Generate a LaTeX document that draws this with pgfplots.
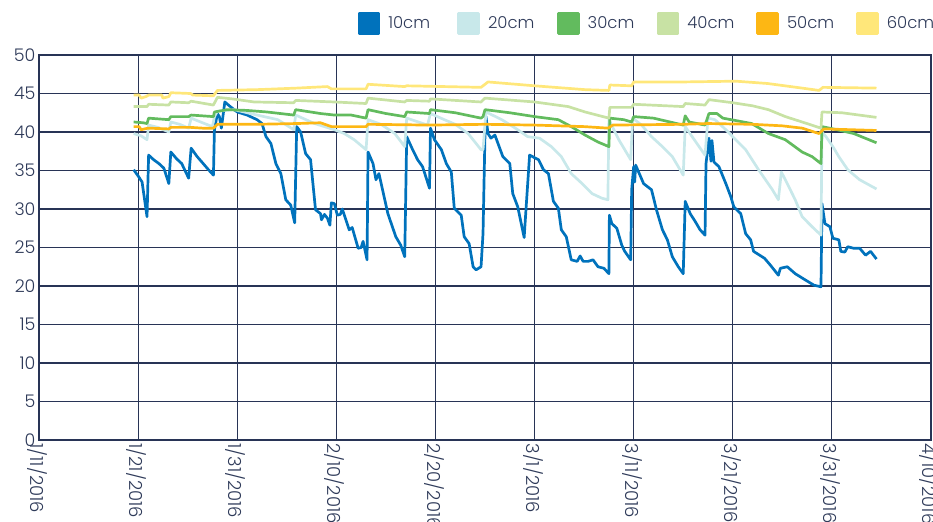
\documentclass[border=0pt]{standalone}
\usepackage{fontspec}
\IfFontExistsTF{Poppins Light}{\setmainfont{Poppins Light}}{\setmainfont{Poppins}}
\usepackage{pgfplots}
\pgfplotsset{compat=1.18}
\definecolor{cA}{RGB}{0,114,188}
\definecolor{cB}{RGB}{200,232,234}
\definecolor{cC}{RGB}{98,187,94}
\definecolor{cD}{RGB}{200,226,164}
\definecolor{cE}{RGB}{253,183,20}
\definecolor{cF}{RGB}{255,231,122}
\definecolor{gridc}{RGB}{40,52,86}
\definecolor{textc}{RGB}{46,58,89}
\newcommand{\legbox}[1]{\makebox[45bp][l]{#1}}
\begin{document}
\begin{tikzpicture}
\begin{axis}[
  at={(0,0)}, anchor=south west,
  scale only axis, width=892bp, height=385bp,
  xmin=0, xmax=90, ymin=0, ymax=50,
  xtick={0,10,...,90},
  xticklabels={1/11/2016,1/21/2016,1/31/2016,2/10/2016,2/20/2016,3/1/2016,3/11/2016,3/21/2016,3/31/2016,4/10/2016},
  ytick={0,5,...,50},
  grid=major,
  major grid style={line width=1.1bp, color=gridc},
  axis line style={line width=1.1bp, color=gridc},
  tick style={draw=none},
  /pgf/number format/assume math mode=true,
  x tick label style={rotate=-90, anchor=west, yshift=-1.5bp, font=\fontsize{18}{20}\selectfont, text=textc},
  y tick label style={font=\fontsize{17.5}{20}\selectfont, text=textc},
  legend columns=6,
  legend style={at={(1,1)}, anchor=south east, xshift=1bp, yshift=20bp, draw=none, fill=none,
    inner sep=0pt, nodes={inner sep=0pt},
    font=\fontsize{16.5}{18}\selectfont, text=textc,
    /tikz/every odd column/.append style={column sep=8bp},
    /tikz/every even column/.append style={column sep=24bp}},
  legend image code/.code={\fill[#1] (0bp,-10bp) rectangle (20bp,10bp);},
  every axis plot/.append style={line width=2.7bp, line join=round},
]
\addplot[color=cA] coordinates {
(9.55,35.1)(10.05,34.2)(10.4,33.5)(10.9,29.0)(11.06,37.0)(11.57,36.4)(12.1,35.9)(12.6,35.3)(13.1,33.3)(13.3,37.4)(13.9,36.5)(14.4,35.9)(15.1,34.0)(15.35,37.9)(15.96,36.8)(16.5,36.0)(17.1,35.1)(17.6,34.4)(17.7,40.3)(18.0,42.4)(18.2,42.0)(18.4,40.5)(18.75,43.9)(19.3,43.3)(19.6,43.0)(20.0,42.6)(21.0,42.2)(22.0,41.6)(22.5,41.1)(22.9,39.4)(23.4,38.5)(23.9,35.9)(24.4,34.6)(24.9,31.2)(25.4,30.5)(25.8,28.2)(26.0,40.7)(26.4,40.0)(26.9,37.2)(27.4,36.4)(27.9,29.9)(28.4,29.4)(28.5,28.6)(28.8,29.3)(29.1,28.8)(29.35,27.9)(29.5,30.8)(29.8,30.7)(30.1,29.2)(30.4,29.3)(30.6,30.0)(31.3,27.3)(31.6,27.6)(32.2,24.9)(32.5,25.0)(32.7,25.8)(33.1,23.4)(33.2,37.4)(33.7,35.9)(34.0,33.8)(34.3,34.6)(35.2,29.4)(36.0,26.4)(36.5,25.3)(36.9,23.8)(37.1,39.4)(37.7,37.7)(38.2,36.4)(38.7,35.5)(39.4,32.7)(39.5,40.5)(39.9,39.0)(40.6,37.7)(41.1,35.9)(41.6,34.8)(41.9,30.1)(42.6,29.2)(42.9,26.4)(43.4,25.5)(43.8,22.5)(44.1,22.1)(44.6,22.5)(44.8,26.8)(45.0,39.8)(45.1,42.0)(45.3,39.8)(45.6,39.2)(46.0,39.6)(46.8,36.8)(47.5,35.9)(47.8,32.0)(48.3,30.3)(48.95,26.3)(49.2,31.2)(49.5,37.0)(50.4,36.4)(50.9,35.1)(51.4,34.6)(51.9,31.0)(52.4,30.1)(52.7,27.3)(53.2,26.4)(53.7,23.4)(54.3,23.2)(54.6,23.9)(54.9,23.2)(55.4,23.2)(55.9,23.4)(56.4,22.5)(57.0,22.3)(57.5,21.6)(57.55,29.2)(57.8,28.1)(58.3,27.5)(58.8,25.3)(59.1,24.5)(59.7,23.4)(59.8,32.5)(60.0,35.5)(60.1,33.5)(60.2,35.7)(61.0,33.3)(61.8,32.5)(62.3,29.9)(62.9,27.3)(63.4,26.0)(63.9,23.8)(64.5,22.5)(65.0,21.6)(65.2,31.0)(65.7,29.4)(66.2,28.4)(66.7,27.3)(67.2,26.6)(67.3,35.9)(67.6,39.2)(67.8,36.2)(67.9,38.9)(68.1,36.1)(68.6,35.5)(69.3,33.3)(69.8,31.6)(70.1,30.3)(70.8,29.4)(71.3,26.8)(71.8,26.0)(72.1,24.5)(73.2,23.6)(73.8,22.7)(74.6,21.4)(74.8,22.3)(75.5,22.5)(76.3,21.6)(77.3,20.8)(78.2,20.1)(78.9,19.9)(79.0,30.7)(79.3,28.1)(79.8,27.7)(80.1,26.2)(80.7,26.0)(80.9,24.5)(81.3,24.4)(81.6,25.1)(82.2,24.9)(82.8,24.9)(83.4,24.0)(83.9,24.5)(84.5,23.5)
};
\addlegendentry{\legbox{10cm}}
\addplot[color=cB] coordinates {
(9.55,39.8)(10.3,39.5)(10.9,39.0)(11.06,40.9)(12.0,40.6)(13.1,40.0)(13.3,41.3)(14.2,41.0)(15.1,40.5)(15.35,41.8)(16.5,41.2)(17.5,40.7)(17.7,42.0)(18.0,42.7)(19.7,42.9)(22.0,42.2)(24.1,41.6)(25.7,40.3)(25.9,42.2)(27.8,41.1)(29.8,40.3)(30.8,39.8)(31.8,39.0)(33.0,37.7)(33.2,41.6)(34.5,41.0)(35.9,39.8)(36.9,38.1)(37.1,41.8)(39.2,40.9)(39.5,42.4)(40.9,41.6)(42.0,41.0)(43.3,39.8)(44.6,37.7)(44.8,37.7)(45.1,42.6)(46.7,41.6)(48.3,40.3)(49.3,39.4)(50.5,39.2)(51.7,38.1)(52.7,36.8)(53.7,34.6)(54.8,33.3)(55.8,32.0)(56.8,31.4)(57.4,31.2)(57.5,41.6)(58.5,39.0)(59.1,37.7)(59.7,36.4)(59.9,41.8)(60.8,40.9)(61.8,39.4)(62.9,38.1)(63.9,36.8)(64.5,35.5)(65.0,34.4)(65.2,40.7)(65.9,39.4)(66.6,38.1)(67.2,37.0)(67.5,41.8)(68.2,41.6)(69.3,40.3)(70.3,39.0)(71.3,37.7)(72.6,35.1)(74.0,32.5)(74.6,31.2)(74.9,34.8)(75.3,33.8)(76.3,31.2)(77.0,29.0)(78.0,27.7)(78.9,26.6)(79.0,40.0)(79.4,39.4)(80.1,38.1)(80.7,36.8)(81.6,35.1)(82.8,33.8)(84.5,32.6)
};
\addlegendentry{\legbox{20cm}}
\addplot[color=cC] coordinates {
(9.55,41.3)(10.5,41.2)(10.9,41.1)(11.06,41.8)(13.1,41.6)(13.3,42.0)(15.1,42.0)(15.35,42.2)(17.6,42.0)(17.7,42.6)(19.0,42.9)(21.0,42.8)(23.0,42.6)(25.7,42.2)(25.9,42.9)(28.4,42.4)(29.8,42.2)(31.5,42.2)(33.0,41.8)(33.2,42.9)(35.0,42.4)(36.9,42.0)(37.1,42.6)(39.4,42.4)(39.5,42.9)(42.0,42.5)(44.6,41.8)(44.8,42.0)(45.0,42.9)(47.5,42.5)(50.0,42.0)(52.4,41.6)(53.7,40.7)(55.1,39.6)(56.4,38.7)(57.5,38.1)(57.6,41.8)(59.0,41.6)(59.8,41.3)(60.0,42.0)(62.0,41.8)(65.0,40.9)(65.2,42.1)(65.6,41.3)(67.2,40.9)(67.6,42.4)(68.4,42.4)(69.0,41.8)(71.9,41.1)(73.6,39.8)(75.3,39.0)(77.0,37.4)(78.0,36.8)(78.9,35.9)(79.0,40.7)(80.5,40.3)(82.2,39.8)(84.5,38.6)
};
\addlegendentry{\legbox{30cm}}
\addplot[color=cD] coordinates {
(9.55,43.3)(10.9,43.3)(11.06,43.6)(13.1,43.5)(13.3,43.9)(15.1,43.8)(15.35,44.0)(17.6,43.5)(18.0,44.5)(19.5,44.3)(21.7,43.9)(25.7,43.8)(25.9,44.1)(29.8,43.9)(33.0,43.7)(33.2,44.4)(36.9,43.9)(37.1,44.1)(39.4,44.0)(39.5,44.3)(44.6,43.9)(45.0,44.4)(50.0,43.9)(53.4,43.3)(55.1,42.6)(57.5,41.8)(57.6,43.2)(59.8,43.2)(60.0,43.6)(65.0,43.3)(65.2,43.7)(67.2,43.5)(67.6,44.2)(70.0,43.8)(72.0,43.4)(73.6,42.9)(75.3,42.0)(77.0,41.3)(78.9,40.5)(79.0,42.6)(81.0,42.5)(84.5,41.9)
};
\addlegendentry{\legbox{40cm}}
\addplot[color=cE] coordinates {
(9.55,40.7)(10.1,40.7)(10.3,40.3)(11.0,40.5)(13.1,40.4)(13.3,40.6)(15.3,40.6)(16.5,40.5)(17.6,40.5)(18.0,41.0)(22.0,41.0)(26.0,41.1)(28.4,41.2)(29.5,40.7)(33.0,40.7)(33.2,41.0)(39.4,40.9)(45.0,41.0)(50.0,40.9)(55.0,40.7)(57.4,40.5)(57.9,40.9)(65.0,41.0)(67.5,41.1)(72.0,41.0)(75.0,40.8)(77.0,40.5)(78.7,39.8)(79.2,40.4)(84.5,40.2)
};
\addlegendentry{\legbox{50cm}}
\addplot[color=cF] coordinates {
(9.55,44.8)(10.1,44.8)(10.3,44.4)(10.8,44.6)(11.06,44.8)(12.4,44.8)(12.5,44.4)(13.1,44.6)(13.3,45.1)(15.3,45.0)(15.5,44.8)(17.6,44.7)(18.0,45.4)(22.0,45.5)(26.0,45.7)(29.1,45.9)(29.5,45.6)(33.0,45.6)(33.2,46.2)(36.9,45.9)(37.1,46.0)(44.6,45.8)(45.3,46.5)(50.0,46.0)(55.1,45.5)(57.5,45.4)(57.6,46.1)(59.8,46.0)(60.0,46.5)(65.0,46.5)(70.3,46.6)(73.5,46.3)(77.0,45.7)(78.7,45.4)(79.1,45.8)(84.5,45.7)
};
\addlegendentry{\legbox{60cm}}
\end{axis}
\pgfresetboundingbox
\useasboundingbox (-39bp,-82bp) rectangle (894bp,440bp);
\end{tikzpicture}
\end{document}
